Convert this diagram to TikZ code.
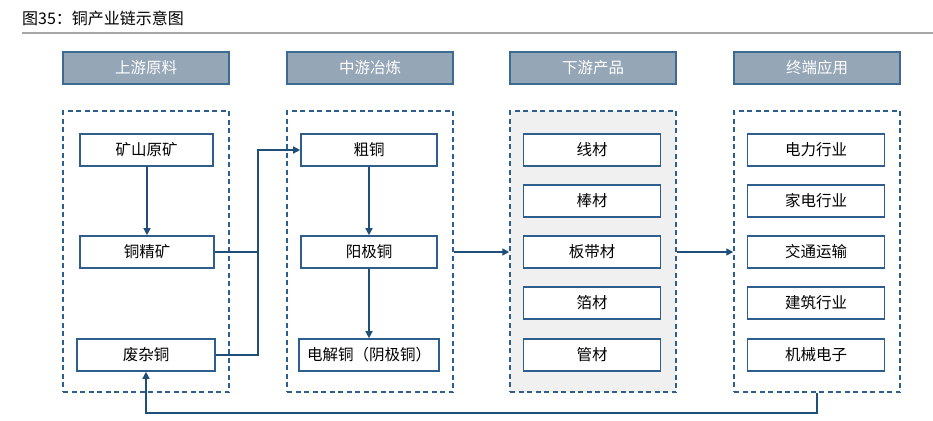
\documentclass[tikz,border=0pt]{standalone}
\usepackage{fontspec}
\setmainfont{Noto Sans CJK SC}
\usetikzlibrary{arrows.meta}
\definecolor{lineblue}{HTML}{1F4E79}
\definecolor{boxblue}{HTML}{2E5E8C}
\definecolor{headfill}{HTML}{95A6B7}
\definecolor{headdraw}{HTML}{3D6A94}
\definecolor{panelgray}{HTML}{F0F0F0}
\tikzset{
  hdr/.style={draw=headdraw, line width=1.8pt, fill=headfill, text=white, font=\fontsize{15.5}{17}\selectfont, inner sep=0pt},
  panel/.style={draw=boxblue, dash pattern=on 5pt off 3.5pt, line width=1.5pt},
  item/.style={draw=boxblue, line width=1.6pt, fill=white, font=\fontsize{15.5}{17}\selectfont, inner sep=0pt},
  conn/.style={draw=lineblue, line width=1.4pt},
  arr/.style={conn, -{Triangle[length=7pt,width=7pt]}}
}
\begin{document}
\begin{tikzpicture}[x=1pt,y=-1pt]
\useasboundingbox (0,0) rectangle (933,420);
% title
\node[anchor=west, font=\fontsize{16}{18}\selectfont, inner sep=0pt] (title) at (22,18) {图35：铜产业链示意图};
\draw[gray!70, line width=1.5pt] (22,33) -- (933,33);
% headers
\node[hdr, minimum width=166pt, minimum height=32pt] (h1) at (146,68) {上游原料};
\node[hdr, minimum width=166pt, minimum height=32pt] (h2) at (370,68) {中游冶炼};
\node[hdr, minimum width=166pt, minimum height=32pt] (h3) at (593,68) {下游产品};
\node[hdr, minimum width=166pt, minimum height=32pt] (h4) at (817,68) {终端应用};
% panels
\node[panel, minimum width=166pt, minimum height=281pt, inner sep=0pt] (p1) at (146,251.5) {};
\node[panel, minimum width=166pt, minimum height=281pt, inner sep=0pt] (p2) at (370,251.5) {};
\node[panel, fill=panelgray, minimum width=166pt, minimum height=281pt, inner sep=0pt] (p3) at (593,251.5) {};
\node[panel, minimum width=166pt, minimum height=281pt, inner sep=0pt] (p4) at (817,251.5) {};
% column 1
\node[item, minimum width=133pt, minimum height=32pt] (a1) at (146.5,150) {矿山原矿};
\node[item, minimum width=134pt, minimum height=32pt] (a2) at (147,252) {铜精矿};
\node[item, minimum width=138pt, minimum height=32pt] (a3) at (146,355) {废杂铜};
% column 2
\node[item, minimum width=136pt, minimum height=32pt] (b1) at (369,150) {粗铜};
\node[item, minimum width=136pt, minimum height=32pt] (b2) at (369,252) {阳极铜};
\node[item, minimum width=140pt, minimum height=32pt] (b3) at (369,355) {电解铜（阴极铜）};
% column 3
\node[item, minimum width=137pt, minimum height=32pt] (c1) at (592,150) {线材};
\node[item, minimum width=137pt, minimum height=32pt] (c2) at (592,201) {棒材};
\node[item, minimum width=137pt, minimum height=32pt] (c3) at (592,252) {板带材};
\node[item, minimum width=137pt, minimum height=32pt] (c4) at (592,303) {箔材};
\node[item, minimum width=137pt, minimum height=32pt] (c5) at (592,355) {管材};
% column 4
\node[item, minimum width=137pt, minimum height=32pt] (d1) at (816,150) {电力行业};
\node[item, minimum width=137pt, minimum height=32pt] (d2) at (816,201) {家电行业};
\node[item, minimum width=137pt, minimum height=32pt] (d3) at (816,252) {交通运输};
\node[item, minimum width=137pt, minimum height=32pt] (d4) at (816,303) {建筑行业};
\node[item, minimum width=137pt, minimum height=32pt] (d5) at (816,355) {机械电子};
% connectors
\coordinate (j) at (258,252);
\draw[arr] (a1.south -| 147,0) -- (a2.north -| 147,0);
\draw[conn] (a2.east) -- (j);
\draw[conn] (a3.east) -| (j);
\draw[arr] (j) |- (b1.west);
\draw[arr] (b1.south) -- (b2.north);
\draw[arr] (b2.south) -- (b3.north);
\draw[arr] (p2.east |- b2) -- (p3.west |- b2);
\draw[arr] (p3.east |- c3) -- (p4.west |- c3);
\coordinate (loop) at (817,413);
\draw[arr] (p4.south) -- (loop) -| (a3.south);
\end{tikzpicture}
\end{document}
